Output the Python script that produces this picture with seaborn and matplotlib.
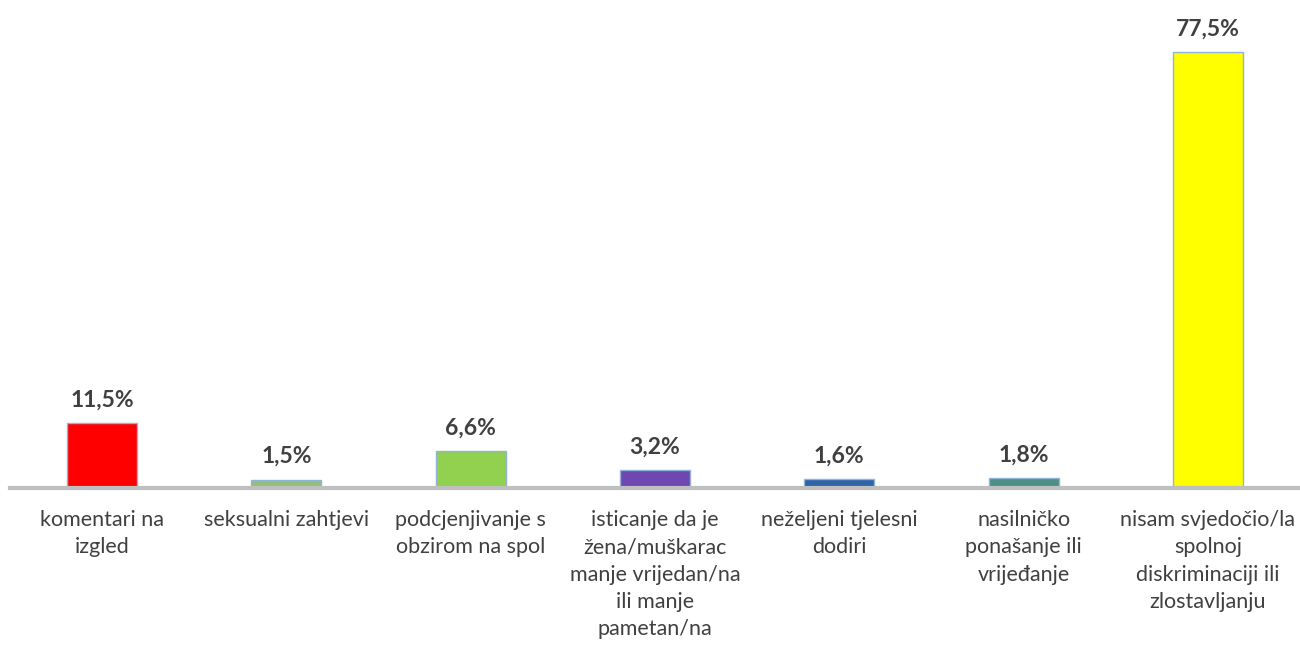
import seaborn as sns
import pandas as pd
from matplotlib import pyplot as plt

categories = ["komentari na\nizgled", "seksualni zahtjevi", "podcjenjivanje s\nobzirom na spol",
              "isticanje da je\nžena/muškarac\nmanje vrijedan/na\nili manje\npametan/na",
              "neželjeni tjelesni\ndodiri", "nasilničko\nponašanje ili\nvrijeđanje",
              "nisam svjedočio/la\nspolnoj\ndiskriminaciji ili\nzlostavljanju"]
values = [11.5, 1.5, 6.6, 3.2, 1.6, 1.8, 77.5]
labels = ["11,5%", "1,5%", "6,6%", "3,2%", "1,6%", "1,8%", "77,5%"]
colors = ["#FF0000", "#94BE7C", "#92D050", "#6E47B0", "#2F64A8", "#4E8E88", "#FFFF00"]

df = pd.DataFrame({"cat": categories, "val": values})

sns.set_style("white")
plt.rcParams['font.family'] = ['Lato', 'DejaVu Sans']

fig = plt.figure(figsize=(13, 6.48), dpi=100)
ax = fig.add_axes([0.0077, 0.247, 0.9923, 0.753])

sns.barplot(data=df, x="cat", y="val", hue="cat", palette=colors, legend=False,
            saturation=1, width=0.38, edgecolor="#8FB4D8", linewidth=1, ax=ax)

for i, (v, lab) in enumerate(zip(values, labels)):
    ax.annotate(lab, (i, v), xytext=(0, 9), textcoords="offset points",
                ha="center", va="bottom", fontsize=16.5, fontweight="bold", color="#404040")

ax.set_ylim(0, 86.7)
ax.set_xlim(-0.5, 6.5)
ax.set_xlabel("")
ax.set_ylabel("")
ax.set_yticks([])
ax.tick_params(axis="x", length=0, pad=16, labelsize=15.5, labelcolor="#404040")
for t in ax.get_xticklabels():
    t.set_linespacing(1.45)
sns.despine(ax=ax, left=True, top=True, right=True)
ax.spines["bottom"].set_color("#BFBFBF")
ax.spines["bottom"].set_linewidth(3)

fig.savefig("out.png", dpi=100)
